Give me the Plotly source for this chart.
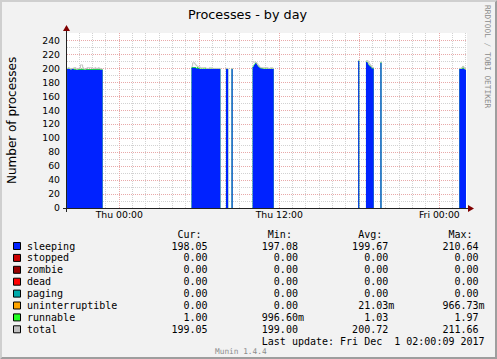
import plotly.graph_objects as go
import pandas as pd

# ---------------- data ----------------
seg_start = ["2017-11-29 20:05", "2017-11-30 05:25", "2017-11-30 08:00", "2017-11-30 08:25",
             "2017-11-30 10:00", "2017-11-30 17:55", "2017-11-30 18:30", "2017-11-30 19:35",
             "2017-12-01 01:30"]

sleeping = [
    [199, 199, 199, 198, 199, 199, 198, 198, 198, 198, 198, 198, 198, 198, 198, 198,
     198, 198, 198, 198, 198, 198, 198, 198, 198, 198, 198, 198, 198, 198, 198, 198],
    [201, 201, 201, 201, 200, 200, 200, 199, 199, 199, 199, 199, 199, 199, 199, 199,
     199, 199, 199, 199, 199, 199, 199, 199, 199, 199],
    [199, 199],
    [199],
    [202, 205, 207, 207, 204, 202, 201, 200, 200, 199, 199, 199, 199, 199, 199, 199, 199, 199, 199],
    [210.6],
    [209, 208, 205, 203, 202, 200, 200],
    [208],
    [199, 199, 199, 200, 199, 198],
]
runnable = [
    [1, 2, 1, 1, 1, 1, 2, 1, 1, 1, 1, 1, 1, 2, 1, 1,
     1, 1, 1, 1, 1, 1, 1, 1, 1, 1, 1, 1, 2, 1, 1, 1],
    [1, 1, 1, 1, 1, 2, 1, 1, 1, 1, 1, 1, 2, 1, 1, 1,
     1, 1, 1, 1, 1, 1, 1, 1, 1, 1],
    [1, 1],
    [1],
    [1, 1, 1, 1, 1, 1, 1, 1, 1, 1, 1, 1, 1, 1, 1, 1, 1, 1, 1],
    [1.0],
    [1, 1, 1, 1, 1, 1, 1],
    [1],
    [1, 1, 2, 3, 1, 1],
]
total = [
    [200, 201, 200, 199, 200, 200, 201, 201, 199, 199, 200, 200, 205, 205, 201, 199,
     199, 200, 201, 201, 201, 201, 201, 200, 200, 201, 200, 200, 201, 200, 199, 199],
    [203, 208, 208, 206, 204, 203, 202, 202, 201, 201, 201, 201, 201, 200, 200, 200,
     201, 201, 200, 200, 200, 200, 200, 200, 200, 200],
    [200, 200],
    [200],
    [209, 209, 209, 208, 206, 204, 202, 201, 201, 201, 201, 201, 201, 201, 200, 200, 201, 201, 200],
    [211.66],
    [211, 211, 208, 206, 204, 202, 201],
    [209],
    [200, 200, 201, 203, 201, 199],
]

x_range = ["2017-11-29 20:04:40", "2017-12-01 02:04:40"]
x_tickvals = ["2017-11-30 00:00", "2017-11-30 06:00", "2017-11-30 12:00",
              "2017-11-30 18:00", "2017-12-01 00:00"]
x_ticktext = ["Thu 00:00", "", "Thu 12:00", "", "Fri 00:00"]

legend_names = ["sleeping", "stopped", "zombie", "dead", "paging",
                "uninterruptible", "runnable", "total"]
legend_colors = ["#0022ff", "#cc0000", "#990000", "#ff0000", "#00aaaa",
                 "#ffa500", "#22ff22", "#c0c0c0"]
cur_vals = ["198.05", "0.00", "0.00", "0.00", "0.00", "0.00", "1.00", "199.05"]
min_vals = ["197.08", "0.00", "0.00", "0.00", "0.00", "0.00", "996.60m", "199.00"]
avg_vals = ["199.67", "0.00", "0.00", "0.00", "0.00", "21.03m", "1.03", "200.72"]
max_vals = ["210.64", "0.00", "0.00", "0.00", "0.00", "966.73m", "1.97", "211.66"]
last_update = "Last update: Fri Dec  1 02:00:09 2017"

# ---------------- geometry ----------------
W, H = 497, 359
PL, PR, PT, PB = 67, 467, 33, 208
PW, PH = PR - PL, PB - PT


def px(x):
    return (x - PL) / PW


def py(y):
    return (PB - y) / PH


STEP = pd.Timedelta(minutes=5)


def seg_xy(start, vals):
    t0 = pd.Timestamp(start)
    times = [t0 + i * STEP for i in range(len(vals))] + [t0 + len(vals) * STEP]
    return [t.strftime("%Y-%m-%d %H:%M:%S") for t in times], list(vals) + [vals[-1]]


stack_top = [[s + r for s, r in zip(sa, ra)] for sa, ra in zip(sleeping, runnable)]

fig = go.Figure()
for series, color in ((stack_top, "#22ff22"), (sleeping, "#0022ff")):
    for start, vals in zip(seg_start, series):
        xs, ys = seg_xy(start, vals)
        fig.add_trace(go.Scatter(x=xs, y=ys, mode="lines", line=dict(width=0, shape="hv"),
                                 fill="tozeroy", fillcolor=color,
                                 hoverinfo="skip", showlegend=False))
for start, vals in zip(seg_start, total):
    xs, ys = seg_xy(start, vals)
    fig.add_trace(go.Scatter(x=xs, y=ys, mode="lines",
                             line=dict(width=1, shape="hv", color="#c0c0c0"),
                             hoverinfo="skip", showlegend=False))

MGRID = "#e8a9a9"
GRID = "#d2d2d2"
DASH = "1px,1px"

fig.update_xaxes(type="date", range=x_range, tickmode="array", tickvals=x_tickvals,
                 ticktext=x_ticktext, showgrid=True, gridcolor=MGRID, griddash=DASH,
                 gridwidth=1, showline=False, zeroline=False, ticks="",
                 tickfont=dict(family="DejaVu Sans", size=9.3, color="black"),
                 minor=dict(tickmode="linear", dtick=3600000, tick0="2017-11-30 00:00",
                            showgrid=True, gridcolor=GRID, griddash=DASH, gridwidth=1),
                 fixedrange=True)
fig.update_yaxes(range=[0, 250.7], tickmode="linear", tick0=0, dtick=20,
                 showgrid=True, gridcolor=MGRID, griddash=DASH, gridwidth=1,
                 showline=False, zeroline=False, ticks="", ticklabelstandoff=6,
                 tickfont=dict(family="DejaVu Sans", size=9.3, color="black"),
                 minor=dict(tickmode="linear", dtick=10, tick0=0, showgrid=True,
                            gridcolor=GRID, griddash=DASH, gridwidth=1),
                 fixedrange=True)

shapes = []
# frame bevel
shapes.append(dict(type="path", xref="paper", yref="paper", layer="above",
                   path=f"M {px(0)} {py(0)} L {px(0)} {py(H)} L {px(2)} {py(H-2)} L {px(2)} {py(2)} "
                        f"L {px(W-2)} {py(2)} L {px(W)} {py(0)} Z",
                   fillcolor="#cfcfcf", line=dict(width=0)))
shapes.append(dict(type="path", xref="paper", yref="paper", layer="above",
                   path=f"M {px(0)} {py(H)} L {px(W)} {py(H)} L {px(W)} {py(0)} L {px(W-2)} {py(2)} "
                        f"L {px(W-2)} {py(H-2)} L {px(2)} {py(H-2)} Z",
                   fillcolor="#9e9e9e", line=dict(width=0)))
# axes
shapes.append(dict(type="line", xref="paper", yref="paper", layer="above",
                   x0=px(63), x1=px(470), y0=py(208.5), y1=py(208.5),
                   line=dict(color="#212121", width=1)))
shapes.append(dict(type="line", xref="paper", yref="paper", layer="above",
                   x0=px(66.5), x1=px(66.5), y0=py(212), y1=py(30),
                   line=dict(color="#212121", width=1)))
shapes.append(dict(type="path", xref="paper", yref="paper", layer="above",
                   path=f"M {px(468)} {py(205)} L {px(468)} {py(212)} L {px(474)} {py(208.5)} Z",
                   fillcolor="#800000", line=dict(width=0)))
shapes.append(dict(type="path", xref="paper", yref="paper", layer="above",
                   path=f"M {px(63)} {py(31)} L {px(70)} {py(31)} L {px(66.5)} {py(25)} Z",
                   fillcolor="#800000", line=dict(width=0)))

annotations = []


def text(x, y, s, size, family, color="black", xanchor="left", angle=0):
    annotations.append(dict(x=px(x), y=py(y), xref="paper", yref="paper", text=s,
                            showarrow=False, xanchor=xanchor, yanchor="middle",
                            textangle=angle, borderpad=0, borderwidth=0,
                            font=dict(family=family, size=size, color=color)))


text(248, 14, "Processes - by day", 12.8, "DejaVu Sans", xanchor="center")
text(12, 120, "Number of processes", 12, "DejaVu Sans", xanchor="center", angle=-90)
text(488, 57, "RRDTOOL / TOBI OETIKER", 7.8, "DejaVu Sans Mono", color="#8c8c8c",
     xanchor="center", angle=90)

MONO = "DejaVu Sans Mono"
NB = "\u00a0"
ROW0, DY = 246, 11.9
LX = 26.7


def cell(v):
    if v.endswith("m"):
        return v[:-1].rjust(14) + "m"
    return v.rjust(14) + " "


header = " " * 25 + "Cur:" + " " * 11 + "Min:" + " " * 11 + "Avg:" + " " * 11 + "Max:"
text(LX, ROW0 - DY, header.replace(" ", NB), 10, MONO)
for i, name in enumerate(legend_names):
    y = ROW0 + i * DY
    line = name.ljust(16) + cell(cur_vals[i]) + cell(min_vals[i]) + cell(avg_vals[i]) + cell(max_vals[i])
    text(LX, y, line.rstrip().replace(" ", NB), 10, MONO)
    shapes.append(dict(type="rect", xref="paper", yref="paper", layer="above",
                       x0=px(13.5), x1=px(20.5), y0=py(y - 3.5), y1=py(y + 3.5),
                       fillcolor=legend_colors[i], line=dict(color="black", width=1)))
text(LX, ROW0 + 8 * DY, (" " * 39 + last_update).replace(" ", NB), 10, MONO)
text(241, 351, "Munin 1.4.4", 7.8, MONO, color="#8c8c8c", xanchor="center")

fig.update_layout(width=W, height=H, margin=dict(l=PL, r=W - PR, t=PT, b=H - PB, pad=0),
                  paper_bgcolor="#f2f2f2", plot_bgcolor="white",
                  shapes=shapes, annotations=annotations, showlegend=False)

fig.write_html("out.html", config={"displayModeBar": False},
               post_script="document.body.style.margin='0';document.body.style.padding='0';"
                           "document.body.style.overflow='hidden';")
